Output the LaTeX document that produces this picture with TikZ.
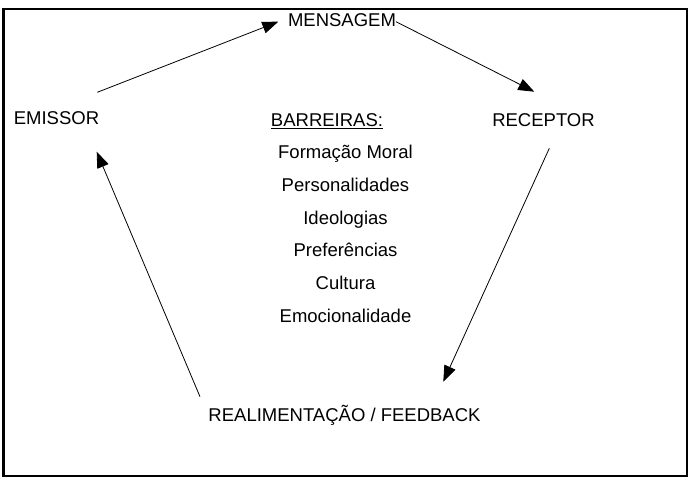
\documentclass[tikz,border=0pt]{standalone}
\usepackage{fontspec}
\setmainfont{Liberation Sans}
\usepackage{tikz}
\usetikzlibrary{positioning, arrows.meta}

\begin{document}
\begin{tikzpicture}[
    x=1pt, y=-1pt,
    node distance=32.6pt,
    every node/.style={
        align=center,
        inner sep=0pt,
        text height=13.5pt,
        text depth=4pt,
        font=\fontsize{18.5}{22}\selectfont
    },
    arrow/.style={-{Triangle[length=16pt,width=12pt]}, line width=0.8pt}
]
\useasboundingbox (0,0) rectangle (696,481);

% ======================
% Frame
% ======================
\draw[line width=2.2pt] (3.5,9) rectangle (687,476);

% ======================
% Cycle
% ======================
\node[anchor=base] (mensagem) at (342,26.5) {MENSAGEM};
\node[anchor=base] (emissor) at (56.5,125) {EMISSOR};
\node[anchor=base] (receptor) at (543.5,126.5) {RECEPTOR};
\node[anchor=base] (feedback) at (344.5,421.7) {REALIMENTAÇÃO / FEEDBACK};

% ======================
% Barreiras list
% ======================
\node[anchor=base] (barreiras) at (327,126.5) {\underline{BARREIRAS:}};
\node[anchor=base] (formacao) at (345.5,159) {Formação Moral};
\node (personalidades) [below of=formacao] {Personalidades};
\node (ideologias) [below of=personalidades] {Ideologias};
\node (preferencias) [below of=ideologias] {Preferências};
\node (cultura) [below of=preferencias] {Cultura};
\node (emocionalidade) [below of=cultura] {Emocionalidade};

% ======================
% Arrow ends
% ======================
\coordinate (emissor_out) at (97.3,92.3);
\coordinate (mensagem_in) at (278.3,21.7);
\coordinate (mensagem_out) at (396,21.7);
\coordinate (receptor_in) at (534.3,91.7);
\coordinate (receptor_out) at (549.3,148.3);
\coordinate (feedback_in) at (443.3,381.7);
\coordinate (feedback_out) at (200,396.7);
\coordinate (emissor_in) at (96.7,151.7);

\draw[arrow] (emissor_out) -- (mensagem_in);
\draw[arrow] (mensagem_out) -- (receptor_in);
\draw[arrow] (receptor_out) -- (feedback_in);
\draw[arrow] (feedback_out) -- (emissor_in);

\end{tikzpicture}
\end{document}
